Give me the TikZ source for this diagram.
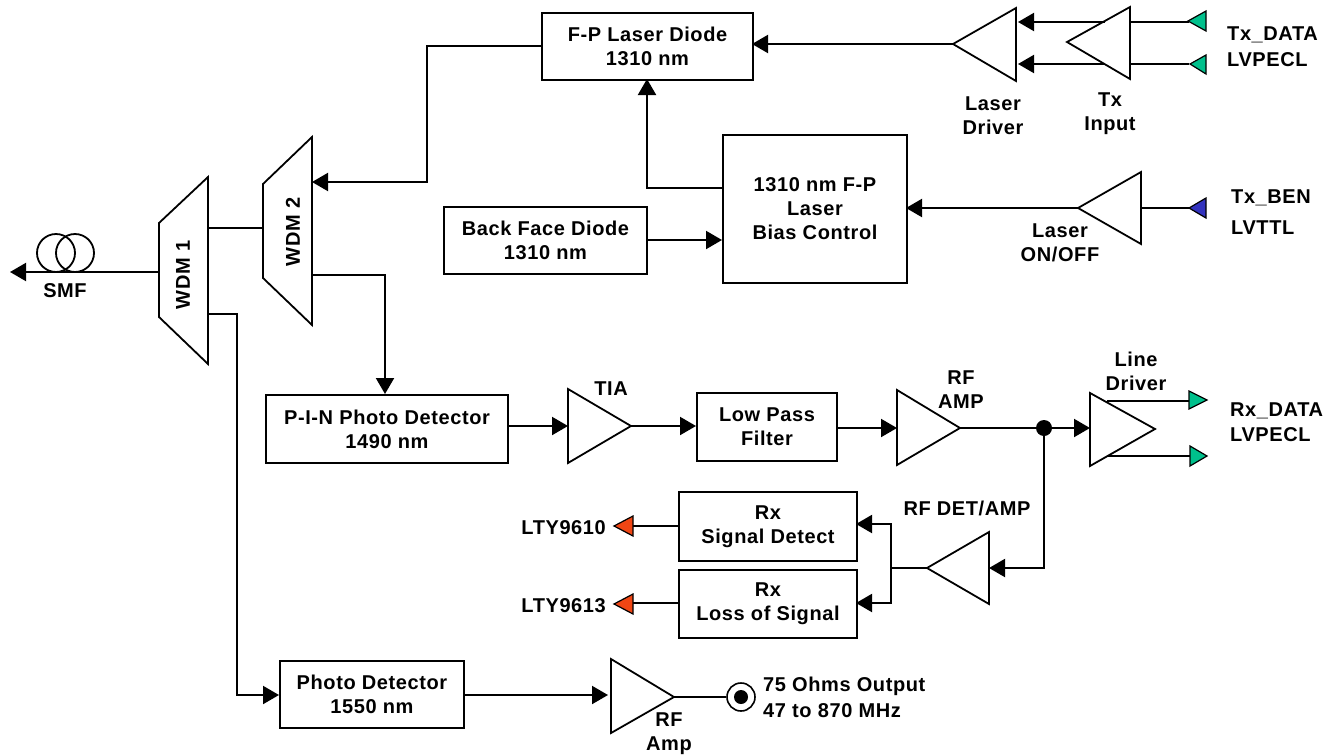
\documentclass[tikz,border=0pt]{standalone}
\usepackage{fontspec}
\setmainfont[LetterSpace=3]{Liberation Sans}
\usetikzlibrary{arrows.meta}
\definecolor{tgreen}{RGB}{0,192,140}
\definecolor{tblue}{RGB}{50,50,190}
\definecolor{tred}{RGB}{240,70,20}
\tikzset{
  lbl/.style={font=\fontsize{20}{24}\selectfont\bfseries,align=center,inner sep=0pt},
  lblleft/.style={lbl,anchor=west,align=left},
  blockbox/.style={draw=black,line width=2pt,fill=white,inner sep=0pt},
  conn/.style={line width=2pt,-{Triangle[length=16pt,width=18pt]},shorten >=0pt},
  plain/.style={line width=2pt},
  ampshape/.style={draw=black,line width=1.8pt,line join=miter,fill=white},
  port/.style={draw=black,line width=1.2pt,line join=miter},
}
\newcommand{\blk}[6]{% name, x0,y0,x1,y1, text
  \pgfmathsetmacro{\bw}{#4-#2}\pgfmathsetmacro{\bh}{#5-#3}
  \node[blockbox,lbl,draw=black,line width=2pt,minimum width=\bw pt,minimum height=\bh pt,anchor=north west] (#1) at (#2,#3) {#6};}
\newcommand{\amp}[6]{% name, apex x, apex y, base x, top, bottom
  \draw[ampshape] (#2,#3) -- (#4,#5) -- (#4,#6) -- cycle;
  \coordinate (#1) at (#2,#3);}
\begin{document}
\begin{tikzpicture}[x=1pt,y=-1pt]
\useasboundingbox (0,0) rectangle (1336,755);

% ---- blocks
\blk{fp}{541}{12}{752}{79}{F-P Laser Diode\\1310 nm}
\blk{bias}{722}{134}{906}{282}{1310 nm F-P\\Laser\\Bias Control}
\blk{bfd}{443}{206}{646}{273}{Back Face Diode\\1310 nm}
\blk{pin}{265}{394}{507}{462}{P-I-N Photo Detector\\1490 nm}
\blk{lpf}{696}{392}{836}{460}{Low Pass\\Filter}
\blk{sd}{678}{491}{856}{560}{Rx\\Signal Detect}
\blk{los}{678}{569}{856}{637}{Rx\\Loss of Signal}
\blk{pd}{279}{660}{463}{727}{Photo Detector\\1550 nm}

% ---- ports on blocks and helpers
\coordinate (fpE) at (752,44);
\coordinate (fpW) at (541,46);
\coordinate (fpS) at (647,79);
\coordinate (biasE) at (906,208);
\coordinate (biasW1) at (722,188);
\coordinate (biasW2) at (722,240);
\coordinate (bfdE) at (646,240);
\coordinate (pinN) at (385,394);
\coordinate (pinE) at (507,426);
\coordinate (lpfW) at (696,426);
\coordinate (lpfE) at (836,428);
\coordinate (sdE) at (856,524);
\coordinate (sdW) at (678,526);
\coordinate (losE) at (856,603);
\coordinate (losW) at (678,603);
\coordinate (pdW) at (279,695);
\coordinate (pdE) at (463,695);
\coordinate (w1W) at (159,272);
\coordinate (w1E) at (208,228);
\coordinate (w1Eb) at (207,314);
\coordinate (w2W) at (263,228);
\coordinate (w2Ea) at (312,182);
\coordinate (w2Eb) at (312,275);
\coordinate (smfEnd) at (10,272);

% ---- amplifiers
\amp{ld}{953}{44}{1016}{8}{81}
\amp{txi}{1067}{42}{1130}{7}{79}
\amp{lonoff}{1078}{208}{1141}{172}{244}
\amp{tia}{631}{426}{568}{389}{463}
\amp{rfa}{960}{428}{897}{390}{465}
\amp{ldr}{1155}{429}{1090}{393}{466}
\amp{det}{927}{568}{989}{532}{604}
\amp{rfo}{674}{697}{611}{659}{733}
\draw[conn] (1105,22) -- (1018,22);
\draw[conn] (1105,64) -- (1018,64);
\draw[plain] (1130,22) -- (1189,22);
\draw[plain] (1130,64) -- (1189,64);

% ---- WDMs
\draw[ampshape] (159,223) -- (208,177) -- (208,364) -- (159,317) -- cycle;
\draw[ampshape] (263,184) -- (312,137) -- (312,325) -- (263,278) -- cycle;
\node[lbl,rotate=90] (wdm1) at (183,275) {WDM 1};
\node[lbl,rotate=90] (wdm2) at (293,232) {WDM 2};

% ---- fibre coil
\node[draw,circle,line width=1.8pt,minimum size=38pt,inner sep=0pt] (c1) at (56,253) {};
\node[draw,circle,line width=1.8pt,minimum size=38pt,inner sep=0pt] (c2) at (75,253) {};
\draw[conn] (w1W) -- (smfEnd);
\draw[plain] (w1E) -- (w2W);

% ---- optical routes
\draw[conn] (fpW) -- (427,46) -- (427,182) -- (w2Ea);
\draw[conn] (w2Eb) -- (385,275) -- (pinN);
\draw[conn] (w1Eb) -- (237,314) -- (237,695) -- (pdW);

% ---- Tx side
\draw[conn] (ld) -- (fpE);
\draw[conn] (biasW1) -- (647,188) -- (fpS);
\draw[conn] (bfdE) -- (biasW2);
\draw[conn] (lonoff) -- (biasE);
\draw[plain] (1141,208) -- (1189,208);

% ---- Rx chain
\draw[conn] (pinE) -- (568,426);
\draw[conn] (tia) -- (lpfW);
\draw[conn] (lpfE) -- (897,428);
\draw[plain] (rfa) -- (1044,428);
\node[circle,fill=black,minimum size=16pt,inner sep=0pt] (dot) at (1044,428) {};
\draw[conn] (dot) -- (1090,428);
\draw[plain] (1107,401) -- (1190,401);
\draw[plain] (1108,456) -- (1190,456);
\draw[conn] (dot) -- (1044,568) -- (989,568);
\draw[plain] (det) -- (891,568);
\draw[conn] (891,568) -- (891,524) -- (sdE);
\draw[conn] (891,568) -- (891,603) -- (losE);
\draw[plain] (sdW) -- (632,526);
\draw[plain] (losW) -- (632,603);
\draw[conn] (pdE) -- (608,695);

% ---- coloured pins
\draw[port,fill=tgreen] (1188,21) -- (1206,11) -- (1206,31) -- cycle;
\draw[port,fill=tgreen] (1190,64) -- (1206,55) -- (1206,74) -- cycle;
\draw[port,fill=tblue] (1189,208) -- (1206,198) -- (1206,218) -- cycle;
\draw[port,fill=tgreen] (1207,400) -- (1189,391) -- (1189,409) -- cycle;
\draw[port,fill=tgreen] (1207,456) -- (1190,446) -- (1190,466) -- cycle;
\draw[port,fill=tred] (614,526) -- (633,516) -- (633,536) -- cycle;
\draw[port,fill=tred] (614,604) -- (633,594) -- (633,614) -- cycle;

% ---- coax output
\node[draw,circle,line width=1.6pt,fill=white,minimum size=28pt,inner sep=0pt] (coax) at (741,697) {};
\node[circle,fill=black,minimum size=14pt,inner sep=0pt] (coaxin) at (741,697) {};
\draw[plain] (rfo) -- (coax);

% ---- labels
\node[lbl] (tsmf) at (65,291) {SMF};
\node[lblleft] (ttxd) at (1227,35) {Tx\_DATA};
\node[lblleft] (ttxl) at (1227,60) {LVPECL};
\node[lbl] (tld) at (993,116) {Laser\\Driver};
\node[lbl] (ttx) at (1110,114) {Tx\\Input};
\node[lblleft] (tben) at (1231,198) {Tx\_BEN};
\node[lblleft] (tttl) at (1231,228) {LVTTL};
\node[lbl] (tonoff) at (1060,243) {Laser\\ON/OFF};
\node[lbl] (ttia) at (611,389) {TIA};
\node[lbl] (trfa) at (961,390) {RF\\AMP};
\node[lbl] (tldr) at (1136,371) {Line\\Driver};
\node[lblleft] (trxd) at (1230,411) {Rx\_DATA};
\node[lblleft] (trxl) at (1230,435) {LVPECL};
\node[lbl] (tdet) at (967,508) {RF DET/AMP};
\node[lbl,anchor=east] (t10) at (606,528) {LTY9610};
\node[lbl,anchor=east] (t13) at (606,606) {LTY9613};
\node[lblleft] (t75) at (763,686) {75 Ohms Output};
\node[lblleft] (t47) at (763,711) {47 to 870 MHz};
\node[lbl] (trfo) at (669,734) {RF\\Amp};
\end{tikzpicture}
\end{document}
